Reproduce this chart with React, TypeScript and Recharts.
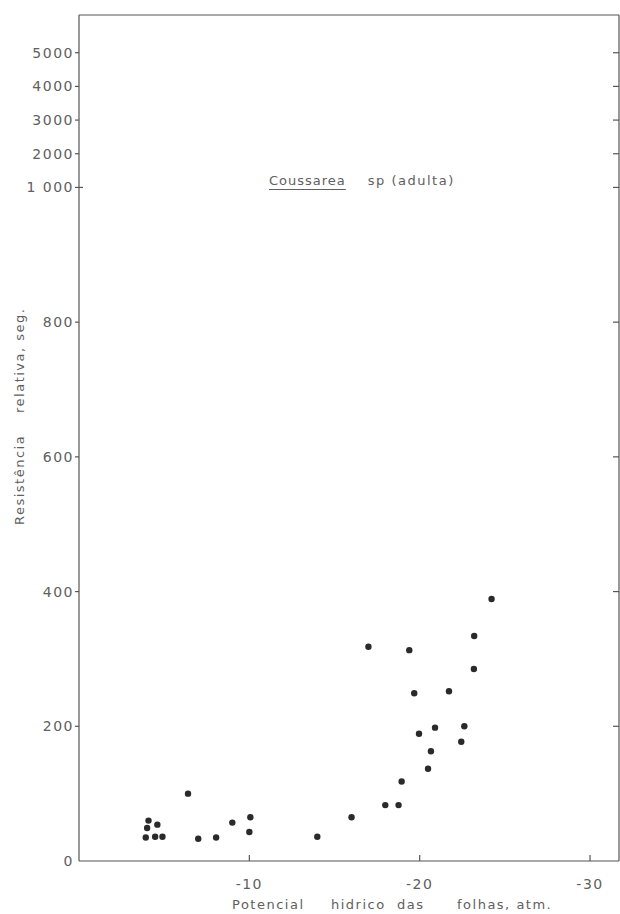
import { Scatter, ScatterChart, XAxis, YAxis } from "recharts";

// leaf water potential (atm) and relative resistance (s)
const potencial = [
  -4.08, -4.0, -3.92, -4.6, -4.47, -4.9, -6.4, -7.0, -8.05, -9.0, -10.06, -10.0,
  -13.99, -16.0, -17.98, -18.76, -16.99, -18.94, -19.39, -19.68, -19.96, -20.49,
  -20.66, -20.9, -21.72, -22.44, -22.62, -23.18, -23.2, -24.22,
];
const resistencia = [
  60, 49, 35, 54, 36, 36, 100, 33, 35, 57, 65, 43, 36, 65, 83, 83, 318, 118, 313,
  249, 189, 137, 163, 198, 252, 177, 200, 285, 334, 389,
];

const xTicks = [-10, -20, -30];
const yTicks = [0, 200, 400, 600, 800, 1000, 2000, 3000, 4000, 5000];
const yTickLabels = ["0", "200", "400", "600", "800", "1 000", "2000", "3000", "4000", "5000"];

// the original axis is compressed 20x above 1000
const squash = (v: number) => (v <= 1000 ? v : 1000 + (v - 1000) / 20);
const yTop = 1256;
const xDomain: [number, number] = [-31.7, 0];

const data = potencial.map((x, i) => ({ x, y: squash(resistencia[i]) }));
const yTickPos = yTicks.map(squash);

const ink = "#555";
const textColor = "#606060";
const font = "'DejaVu Sans', sans-serif";
const textStyle = { fontFamily: font, fontSize: 13, letterSpacing: 1.5, fill: textColor };

function LeftTick({ x, y, payload }: any) {
  const label = yTickLabels[yTickPos.indexOf(payload.value)] ?? "";
  const isBreak = payload.value === 1000;
  return (
    <g>
      {payload.value !== 0 && (
        <line x1={x - 4} x2={isBreak ? x + 4 : x} y1={y} y2={y} stroke={ink} strokeWidth={1.2} />
      )}
      <text x={x - 5} y={y} dy="0.36em" textAnchor="end" style={{ ...textStyle, fontSize: 14 }}>
        {label}
      </text>
    </g>
  );
}

function RightTick({ x, y }: any) {
  return <line x1={x - 6} x2={x} y1={y} y2={y} stroke={ink} strokeWidth={1.2} />;
}

function BottomTick({ x, y, payload }: any) {
  return (
    <g>
      <line x1={x} x2={x} y1={y} y2={y - 6} stroke={ink} strokeWidth={1.2} />
      <text x={x} y={y + 23} dy="0.36em" textAnchor="middle" style={{ ...textStyle, fontSize: 14 }}>
        {payload.value}
      </text>
    </g>
  );
}

function TopTick({ x, y }: any) {
  return <line x1={x} x2={x} y1={y} y2={y + 6} stroke={ink} strokeWidth={1.2} />;
}

function XTitle() {
  return (
    <text y={904} dy="0.36em" style={textStyle}>
      <tspan x={232}>Potencial</tspan>
      <tspan x={331}>hidrico</tspan>
      <tspan x={397}>das</tspan>
      <tspan x={457}>folhas, atm.</tspan>
    </text>
  );
}

function YTitle() {
  return (
    <text transform="translate(24, 525) rotate(-90)" style={textStyle}>
      <tspan x={0}>Resistência</tspan>
      <tspan x={112}>relativa, seg.</tspan>
    </text>
  );
}

function Dot({ cx, cy }: any) {
  return <circle cx={cx} cy={cy} r={3.2} fill="#2a2a2a" />;
}

export default function App() {
  return (
    <div style={{ position: "absolute", left: 0, top: 0, width: 620, height: 914, background: "#fff" }}>
      <ScatterChart width={620} height={914} margin={{ top: 14, right: 0, bottom: 0, left: 0 }}>
        <XAxis
          xAxisId="bottom"
          dataKey="x"
          type="number"
          domain={xDomain}
          reversed
          allowDataOverflow
          ticks={xTicks}
          interval={0}
          height={53}
          tickSize={0}
          tickMargin={0}
          tickLine={false}
          tick={<BottomTick />}
          axisLine={{ stroke: ink, strokeWidth: 1.2 }}
          label={<XTitle />}
        />
        <XAxis
          xAxisId="top"
          orientation="top"
          type="number"
          domain={xDomain}
          reversed
          allowDataOverflow
          ticks={xTicks}
          interval={0}
          height={1}
          tickSize={0}
          tickMargin={0}
          tickLine={false}
          tick={<TopTick />}
          axisLine={{ stroke: ink, strokeWidth: 1.2 }}
        />
        <YAxis
          yAxisId="left"
          dataKey="y"
          type="number"
          domain={[0, yTop]}
          allowDataOverflow
          ticks={yTickPos}
          interval={0}
          width={79}
          tickSize={0}
          tickMargin={0}
          tickLine={false}
          tick={<LeftTick />}
          axisLine={{ stroke: ink, strokeWidth: 1.2 }}
          label={<YTitle />}
        />
        <YAxis
          yAxisId="right"
          orientation="right"
          type="number"
          domain={[0, yTop]}
          allowDataOverflow
          ticks={yTickPos.filter((v) => v > 0)}
          interval={0}
          width={1}
          tickSize={0}
          tickMargin={0}
          tickLine={false}
          tick={<RightTick />}
          axisLine={{ stroke: ink, strokeWidth: 1.2 }}
        />
        <Scatter
          data={data}
          xAxisId="bottom"
          yAxisId="left"
          shape={<Dot />}
          isAnimationActive={false}
        />
      </ScatterChart>
      <div
        style={{
          position: "absolute",
          left: 269,
          top: 173,
          fontFamily: font,
          fontSize: 13,
          letterSpacing: 1,
          color: textColor,
          whiteSpace: "nowrap",
          lineHeight: "16px",
        }}
      >
        <span style={{ textDecoration: "underline", textUnderlineOffset: 4 }}>Coussarea</span>
        <span style={{ marginLeft: 22, letterSpacing: 1.5 }}>sp (adulta)</span>
      </div>
    </div>
  );
}
